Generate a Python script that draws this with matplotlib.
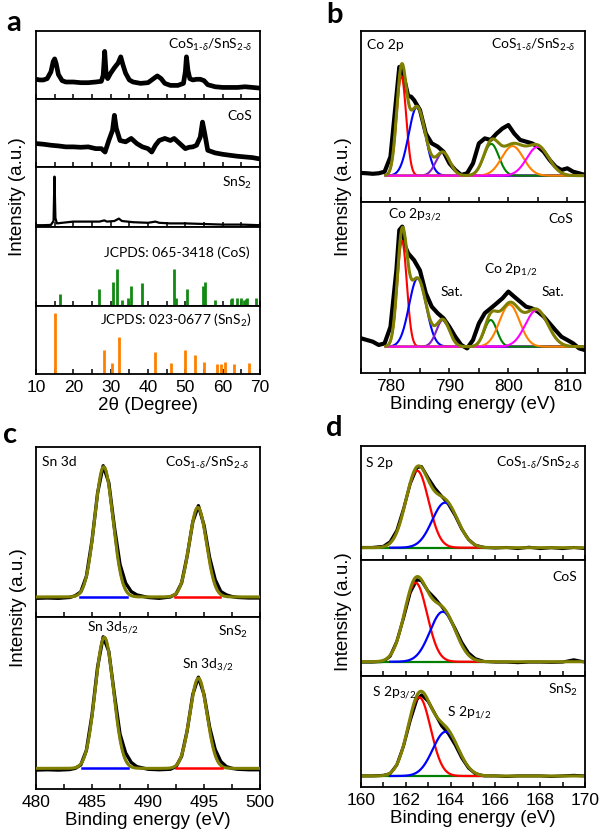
import numpy as np
import matplotlib
matplotlib.use('Agg')
import matplotlib.pyplot as plt
from matplotlib.ticker import MultipleLocator

plt.rcParams['font.family'] = ['Liberation Sans', 'DejaVu Sans']
plt.rcParams['mathtext.fontset'] = 'custom'
plt.rcParams['mathtext.rm'] = 'Lato'
plt.rcParams['mathtext.it'] = 'Lato:italic'
plt.rcParams['mathtext.bf'] = 'Lato:bold'
plt.rcParams['axes.linewidth'] = 1.3

# ======================= DATA =======================
# ---- Panel a: XRD (normalized intensity in each stacked frame) ----
xrd_comp_2theta = [10, 11, 12, 13, 14, 14.6, 15, 15.4, 16, 17, 18, 20, 22, 24, 26, 27.5, 28.0, 28.4, 28.8,
                   29.2, 30, 31, 32, 32.7, 33.3, 34, 35, 36, 38, 40, 41.5, 42.5, 43.5, 44.5, 46, 48, 49.5,
                   50.0, 50.3, 50.7, 51.2, 52, 53, 54, 55, 56, 58, 60, 62, 64, 66, 68, 70]
xrd_comp_int = [0.29, 0.28, 0.28, 0.30, 0.40, 0.55, 0.59, 0.52, 0.36, 0.27, 0.25, 0.25, 0.24, 0.24, 0.25, 0.26,
                0.35, 0.70, 0.35, 0.30, 0.38, 0.46, 0.53, 0.62, 0.50, 0.38, 0.28, 0.25, 0.23, 0.24, 0.30, 0.34,
                0.30, 0.23, 0.20, 0.20, 0.23, 0.40, 0.62, 0.42, 0.30, 0.28, 0.29, 0.29, 0.27, 0.21, 0.18, 0.17,
                0.17, 0.17, 0.18, 0.17, 0.16]
xrd_cos_2theta = [10, 12, 14, 16, 18, 20, 22, 24, 26, 27.5, 28.5, 29.5, 30.5, 31, 31.5, 32.5, 34, 35.5, 37,
                  38.5, 40, 41, 42, 43, 44.5, 46, 47, 48, 49, 50, 51, 52, 53, 54, 54.6, 55.2, 56, 58, 60, 62,
                  64, 66, 68, 70]
xrd_cos_int = [0.345, 0.335, 0.32, 0.31, 0.296, 0.296, 0.29, 0.296, 0.27, 0.27, 0.22, 0.39, 0.54, 0.76, 0.57,
               0.39, 0.37, 0.42, 0.345, 0.296, 0.27, 0.22, 0.32, 0.39, 0.42, 0.39, 0.42, 0.37, 0.32, 0.27, 0.29,
               0.296, 0.32, 0.44, 0.66, 0.49, 0.246, 0.207, 0.187, 0.172, 0.158, 0.148, 0.138, 0.118]
xrd_sns2_2theta = [10, 12, 14, 14.7, 14.95, 15.2, 15.6, 17, 20, 24, 27, 28.3, 29, 31, 32.2, 33, 36, 40, 42,
                   43, 46, 50, 55, 60, 65, 70]
xrd_sns2_int = [0.03, 0.03, 0.035, 0.10, 0.84, 0.15, 0.06, 0.07, 0.09, 0.09, 0.09, 0.11, 0.09, 0.10, 0.14,
                0.10, 0.08, 0.07, 0.09, 0.07, 0.06, 0.06, 0.05, 0.04, 0.04, 0.03]
jcpds_cos_pos = [16.4, 26.9, 30.7, 31.6, 33.1, 34.7, 35.4, 38.3, 47.0, 47.4, 50.4, 54.6, 55.3, 57.9, 62.2,
                 62.6, 63.8, 64.9, 65.7, 66.2, 66.6, 68.9]
jcpds_cos_int = [0.15, 0.21, 0.31, 0.47, 0.08, 0.10, 0.25, 0.29, 0.47, 0.10, 0.21, 0.25, 0.31, 0.08, 0.09,
                 0.10, 0.10, 0.10, 0.08, 0.09, 0.10, 0.10]
jcpds_sns2_pos = [15.1, 28.3, 30.4, 32.2, 42.0, 46.2, 50.0, 52.5, 55.0, 58.4, 59.5, 60.6, 63.0, 67.1]
jcpds_sns2_int = [0.89, 0.35, 0.16, 0.55, 0.32, 0.16, 0.35, 0.28, 0.18, 0.15, 0.15, 0.18, 0.15, 0.16]

# ---- Panel b: Co 2p XPS ----
co_comp_E = [775, 776, 777, 778, 779, 780, 781, 781.5, 782, 783, 783.5, 784, 785, 786, 787, 788, 789, 790,
             791, 792, 793, 794, 795, 796, 797, 798, 799, 800, 801, 802, 803, 804, 805, 806, 807, 808, 809,
             810, 811, 812, 813]
co_comp_I = [0.17, 0.168, 0.165, 0.168, 0.177, 0.265, 0.616, 0.79, 0.77, 0.62, 0.616, 0.596, 0.538, 0.40,
             0.343, 0.324, 0.294, 0.226, 0.187, 0.158, 0.168, 0.226, 0.343, 0.372, 0.363, 0.40, 0.43, 0.45,
             0.40, 0.363, 0.353, 0.343, 0.324, 0.294, 0.246, 0.207, 0.187, 0.197, 0.177, 0.168, 0.158]
co_cos_E = [775, 776, 777, 778, 779, 780, 781, 781.5, 782, 782.5, 783, 783.5, 784, 785, 786, 787, 788, 789,
            790, 791, 792, 793, 794, 795, 796, 797, 798, 799, 800, 801, 802, 803, 804, 805, 806, 807, 808,
            809, 810, 811, 812, 813]
co_cos_I = [0.203, 0.193, 0.183, 0.164, 0.173, 0.27, 0.60, 0.836, 0.856, 0.74, 0.70, 0.68, 0.66, 0.60, 0.466,
            0.388, 0.35, 0.32, 0.27, 0.212, 0.164, 0.144, 0.193, 0.29, 0.35, 0.378, 0.407, 0.437, 0.476,
            0.446, 0.417, 0.388, 0.378, 0.359, 0.33, 0.29, 0.25, 0.212, 0.193, 0.173, 0.144, 0.134]
co_fit_colors = ['#ff0000', '#0000ff', '#8020c8', '#008000', '#ff8000', '#ff00ff']
co_comp_centers = [781.85, 784.5, 788.9, 797.1, 800.7, 805.0]
co_comp_heights = [0.583, 0.403, 0.136, 0.186, 0.173, 0.169]
co_comp_fwhm = [1.9, 3.3, 2.8, 3.0, 4.3, 4.4]
co_comp_base = 0.154
co_cos_centers = [781.96, 784.6, 788.9, 797.0, 800.2, 804.8]
co_cos_heights = [0.618, 0.40, 0.156, 0.156, 0.246, 0.214]
co_cos_fwhm = [1.9, 3.4, 2.6, 2.5, 4.0, 4.5]
co_cos_base = 0.154
co_fit_range = [779.2, 813]

# ---- Panel c: Sn 3d XPS ----
sn_E = [480, 481, 482, 483, 483.5, 484, 484.5, 485, 485.5, 486, 486.5, 487, 487.5, 488, 488.5, 489, 490,
        491, 492, 492.5, 493, 493.5, 494, 494.5, 495, 495.5, 496, 496.5, 497, 497.5, 498, 499, 500]
sn_comp_I = [0.11, 0.112, 0.11, 0.115, 0.125, 0.148, 0.24, 0.45, 0.73, 0.89, 0.79, 0.53, 0.31, 0.20, 0.15,
             0.13, 0.115, 0.11, 0.118, 0.135, 0.20, 0.36, 0.56, 0.655, 0.54, 0.35, 0.22, 0.15, 0.13, 0.12,
             0.115, 0.112, 0.112]
sn_sns2_I = [0.11, 0.112, 0.11, 0.113, 0.12, 0.14, 0.225, 0.43, 0.71, 0.885, 0.80, 0.55, 0.32, 0.21, 0.155,
             0.13, 0.115, 0.112, 0.115, 0.13, 0.19, 0.34, 0.55, 0.65, 0.55, 0.36, 0.23, 0.16, 0.13, 0.12,
             0.115, 0.112, 0.112]
sn_colors = ['#0000ff', '#ff0000']
sn_comp_centers = [486.05, 494.45]
sn_comp_heights = [0.766, 0.527]
sn_comp_fwhm = [1.9, 1.8]
sn_comp_base = 0.118
sn_comp_ranges = [[483.9, 488.1], [492.4, 496.4]]
sn_sns2_centers = [486.1, 494.5]
sn_sns2_heights = [0.762, 0.524]
sn_sns2_fwhm = [1.9, 1.8]
sn_sns2_base = 0.12
sn_sns2_ranges = [[484.1, 488.2], [492.5, 496.6]]

# ---- Panel d: S 2p XPS ----
s_E = [160, 160.5, 161, 161.3, 161.6, 161.9, 162.2, 162.5, 162.7, 163, 163.3, 163.6, 163.9, 164.2, 164.5,
       164.8, 165.1, 165.5, 166, 166.5, 167, 167.5, 168, 168.5, 169, 169.5, 170]
s_comp_I = [0.11, 0.11, 0.12, 0.16, 0.26, 0.45, 0.67, 0.81, 0.82, 0.72, 0.63, 0.56, 0.49, 0.39, 0.27, 0.18,
            0.13, 0.11, 0.105, 0.11, 0.10, 0.112, 0.10, 0.108, 0.10, 0.11, 0.10]
s_cos_I = [0.12, 0.12, 0.125, 0.17, 0.30, 0.50, 0.72, 0.83, 0.82, 0.73, 0.67, 0.60, 0.52, 0.41, 0.29, 0.20,
           0.15, 0.125, 0.12, 0.12, 0.115, 0.12, 0.12, 0.118, 0.12, 0.14, 0.12]
s_sns2_I = [0.10, 0.10, 0.105, 0.12, 0.20, 0.37, 0.60, 0.79, 0.83, 0.77, 0.66, 0.55, 0.48, 0.38, 0.26, 0.17,
            0.12, 0.10, 0.10, 0.095, 0.10, 0.10, 0.10, 0.095, 0.10, 0.105, 0.10]
s_colors = ['#ff0000', '#0000ff']
s_comp_centers = [162.51, 163.75]
s_comp_heights = [0.675, 0.395]
s_cos_centers = [162.44, 163.65]
s_cos_heights = [0.681, 0.431]
s_sns2_centers = [162.6, 163.78]
s_sns2_heights = [0.709, 0.399]
s_fwhm = [1.2, 1.35]
s_bases = [0.108, 0.123, 0.099]
s_comp_range = [161.3, 165.5]
s_base_range = [160.05, 165.6]

OLIVE = '#808000'
GREEN_STICK = '#128a12'
ORANGE_STICK = '#ff8000'

# ======================= HELPERS =======================
fig = plt.figure(figsize=(6.0, 8.32), dpi=100)


def mkax(x0, x1, y0, y1):
    return fig.add_axes([x0 / 600, 1 - y1 / 832, (x1 - x0) / 600, (y1 - y0) / 832])


def style(ax, xlim, major, minor, show_labels):
    ax.set_xlim(*xlim)
    ax.set_ylim(0, 1)
    ax.set_yticks([])
    ax.xaxis.set_major_locator(MultipleLocator(major))
    ax.xaxis.set_minor_locator(MultipleLocator(minor))
    ax.tick_params(axis='x', which='both', direction='in', length=3.5, width=1.1,
                   top=False, labelbottom=show_labels, labelsize=12.5, pad=4)


def note(ax, x, y, s, ha='left', size=10):
    ax.text(x, y, s, transform=ax.transAxes, ha=ha, va='center', fontsize=size,
            family=['Lato', 'DejaVu Sans'])


def gauss(x, c, h, w):
    return h * np.exp(-4 * np.log(2) * ((x - c) / w) ** 2)


COMP = r'CoS$_{1\text{-}\delta}$/SnS$_{2\text{-}\delta}$'

# ======================= PANEL a =======================
a_bounds = [31, 99, 167, 227, 306, 374]
axa = [mkax(36, 260, a_bounds[i], a_bounds[i + 1]) for i in range(5)]
for i, ax in enumerate(axa):
    style(ax, (10, 70), 10, 5, i == 4)
axa[0].plot(xrd_comp_2theta, xrd_comp_int, color='black', lw=3.4)
axa[1].plot(xrd_cos_2theta, xrd_cos_int, color='black', lw=3.4)
axa[2].plot(xrd_sns2_2theta, xrd_sns2_int, color='black', lw=1.6)
axa[3].vlines(jcpds_cos_pos, 0, jcpds_cos_int, color=GREEN_STICK, lw=2.0)
axa[4].vlines(jcpds_sns2_pos, 0, jcpds_sns2_int, color=ORANGE_STICK, lw=2.0)
note(axa[0], 0.964, 0.79, COMP, 'right')
note(axa[1], 0.963, 0.754, 'CoS', 'right')
note(axa[2], 0.963, 0.73, r'SnS$_2$', 'right')
note(axa[3], 0.955, 0.675, 'JCPDS: 065-3418 (CoS)', 'right')
note(axa[4], 0.963, 0.794, r'JCPDS: 023-0677 (SnS$_2$)', 'right')
axa[4].set_xlabel('2θ (Degree)', fontsize=13.5, labelpad=2)

# ======================= PANEL b =======================
axb = [mkax(361, 585, 31, 202), mkax(361, 585, 202, 373)]
for i, ax in enumerate(axb):
    style(ax, (775, 813), 10, 5, i == 1)
Efit = np.linspace(co_fit_range[0], co_fit_range[1], 500)
for ax, E, I, cen, hei, fw, base in [
        (axb[0], co_comp_E, co_comp_I, co_comp_centers, co_comp_heights, co_comp_fwhm, co_comp_base),
        (axb[1], co_cos_E, co_cos_I, co_cos_centers, co_cos_heights, co_cos_fwhm, co_cos_base)]:
    ax.plot(E, I, color='black', lw=3.0)
    total = np.zeros_like(Efit)
    for c, h, w, col in zip(cen, hei, fw, co_fit_colors):
        comp = gauss(Efit, c, h, w)
        total += comp
        ax.plot(Efit, base + comp, color=col, lw=1.5)
    ax.plot(Efit, base + total, color=OLIVE, lw=2.2)
note(axb[0], 0.027, 0.918, 'Co 2p')
note(axb[0], 0.955, 0.918, COMP, 'right')
note(axb[1], 0.12, 0.924, r'Co 2p$_{3/2}$')
note(axb[1], 0.946, 0.90, 'CoS', 'right')
note(axb[1], 0.549, 0.602, r'Co 2p$_{1/2}$')
note(axb[1], 0.353, 0.474, 'Sat.')
note(axb[1], 0.804, 0.474, 'Sat.')
axb[1].set_xlabel('Binding energy (eV)', fontsize=13.5, labelpad=2)

# ======================= PANEL c =======================
axc = [mkax(36, 260, 447, 617), mkax(36, 260, 617, 789)]
for i, ax in enumerate(axc):
    style(ax, (480, 500), 5, 2.5, i == 1)
Efull = np.linspace(480, 500, 600)
for ax, I, cen, hei, fw, base, rng in [
        (axc[0], sn_comp_I, sn_comp_centers, sn_comp_heights, sn_comp_fwhm, sn_comp_base, sn_comp_ranges),
        (axc[1], sn_sns2_I, sn_sns2_centers, sn_sns2_heights, sn_sns2_fwhm, sn_sns2_base, sn_sns2_ranges)]:
    ax.plot(sn_E, I, color='black', lw=2.4)
    total = np.zeros_like(Efull)
    for c, h, w, col, r in zip(cen, hei, fw, sn_colors, rng):
        total += gauss(Efull, c, h, w)
        Er = np.linspace(r[0], r[1], 300)
        ax.plot(Er, base + gauss(Er, c, h, w), color=col, lw=1.6, zorder=2)
    ax.plot(Efull, base + total, color=OLIVE, lw=2.2, zorder=3)
    for col, r in zip(sn_colors, rng):
        # baseline segment of each component, drawn over the fit range
        ax.plot(r, [base, base], color=col, lw=1.8, zorder=4)
note(axc[0], 0.027, 0.914, 'Sn 3d')
note(axc[0], 0.951, 0.906, COMP, 'right')
note(axc[1], 0.228, 0.936, r'Sn 3d$_{5/2}$')
note(axc[1], 0.946, 0.913, r'SnS$_2$', 'right')
note(axc[1], 0.652, 0.721, r'Sn 3d$_{3/2}$')
axc[1].set_xlabel('Binding energy (eV)', fontsize=13.5, labelpad=2)

# ======================= PANEL d =======================
axd = [mkax(361, 585, 446, 560), mkax(361, 585, 560, 676), mkax(361, 585, 676, 787)]
for i, ax in enumerate(axd):
    style(ax, (160, 170), 2, 1, i == 2)
Efull = np.linspace(160, 170, 600)
Ecomp = np.linspace(s_comp_range[0], s_comp_range[1], 300)
for ax, I, cen, hei, base in [
        (axd[0], s_comp_I, s_comp_centers, s_comp_heights, s_bases[0]),
        (axd[1], s_cos_I, s_cos_centers, s_cos_heights, s_bases[1]),
        (axd[2], s_sns2_I, s_sns2_centers, s_sns2_heights, s_bases[2])]:
    ax.plot(s_E, I, color='black', lw=2.2)
    ax.plot(s_base_range, [base, base], color='#008000', lw=1.6)
    total = np.zeros_like(Efull)
    for c, h, w, col in zip(cen, hei, s_fwhm, s_colors):
        total += gauss(Efull, c, h, w)
        ax.plot(Ecomp, base + gauss(Ecomp, c, h, w), color=col, lw=1.6)
    ax.plot(Efull, base + total, color=OLIVE, lw=2.2)
note(axd[0], 0.022, 0.853, 'S 2p')
note(axd[0], 0.978, 0.853, COMP, 'right')
note(axd[1], 0.964, 0.856, 'CoS', 'right')
note(axd[2], 0.969, 0.874, r'SnS$_2$', 'right')
note(axd[2], 0.049, 0.847, r'S 2p$_{3/2}$')
note(axd[2], 0.384, 0.667, r'S 2p$_{1/2}$')
axd[2].set_xlabel('Binding energy (eV)', fontsize=13.5, labelpad=2)

# ======================= shared labels =======================
for (x, y) in [(18, 197), (343, 197), (19, 608), (343, 612)]:
    fig.text(x / 600, 1 - y / 832, 'Intensity (a.u.)', rotation=90, ha='center', va='center',
             fontsize=13.5)
for (x, y, s) in [(14, 23, 'a'), (334, 15, 'b'), (10, 435, 'c'), (334, 428, 'd')]:
    fig.text(x / 600, 1 - y / 832, s, ha='center', va='center', fontsize=21, fontweight='bold',
             family=['Lato', 'DejaVu Sans'])

fig.savefig('out.png', dpi=100)
